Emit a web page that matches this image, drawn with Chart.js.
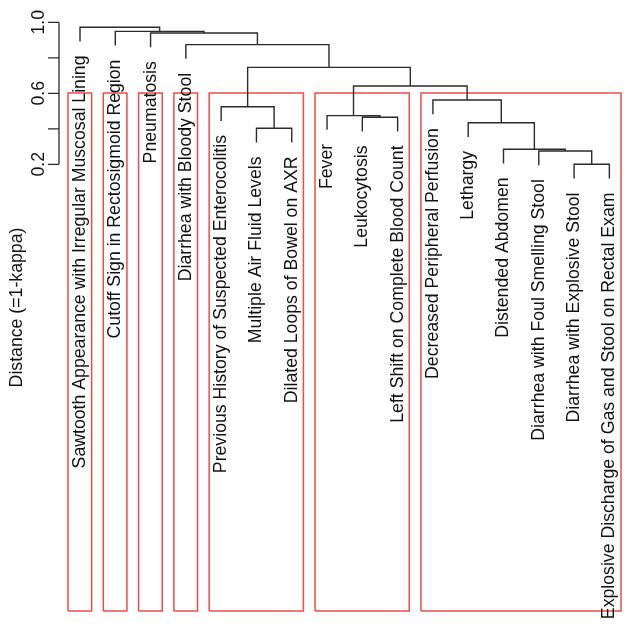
<!DOCTYPE html>
<html>
<head>
<meta charset="utf-8">
<script src="https://cdn.jsdelivr.net/npm/chart.js@4"></script>
<style>
html, body { margin: 0; padding: 0; background: #fff; }
#wrap { width: 628px; height: 630px; }
</style>
</head>
<body>
<div id="wrap"><canvas id="dendro"></canvas></div>
<script>
// leaves in display order (1..16)
const leafLabels = [
  "Sawtooth Appearance with Irregular Muscosal Lining",
  "Cutoff Sign in Rectosigmoid Region",
  "Pneumatosis",
  "Diarrhea with Bloody Stool",
  "Previous History of Suspected Enterocolitis",
  "Multiple Air Fluid Levels",
  "Dilated Loops of Bowel on AXR",
  "Fever",
  "Leukocytosis",
  "Left Shift on Complete Blood Count",
  "Decreased Peripheral Perfusion",
  "Lethargy",
  "Distended Abdomen",
  "Diarrhea with Foul Smelling Stool",
  "Diarrhea with Explosive Stool",
  "Explosive Discharge of Gas and Stool on Rectal Exam"
];

// hclust style merges: negative = leaf, positive = earlier merge
const mergePairs = [
  [-15, -16], [-14, 1], [-13, 2], [-6, -7], [-12, 3],
  [-9, -10], [-8, 6], [-5, 4], [-11, 5], [7, 9],
  [8, 10], [-4, 11], [-3, 12], [-2, 13], [-1, 14]
];
const mergeHeights = [
  0.200, 0.275, 0.285, 0.403, 0.434,
  0.465, 0.474, 0.524, 0.562, 0.641,
  0.746, 0.874, 0.940, 0.949, 0.972
];

const axisTicks = [0.2, 0.4, 0.6, 0.8, 1.0];
const axisTickLabels = ["0.2", "", "0.6", "", "1.0"];
const axisTitle = "Distance (=1-kappa)";
const clusterCount = 7;
const leafHang = 0.08;

const xMin = -1.267, xMax = 16.528;
const yMax = 1.1256, yMin = -2.3167;

const nodeX = [];
const leafBottom = [];
const treeLines = [];

function childX(c) { return c < 0 ? -c : nodeX[c - 1]; }
function childTop(c, h) {
  if (c < 0) { leafBottom[-c] = h - leafHang; return h - leafHang; }
  return mergeHeights[c - 1];
}

mergePairs.forEach((pair, i) => {
  const h = mergeHeights[i];
  const l = pair[0], r = pair[1];
  const xl = childX(l), xr = childX(r);
  nodeX.push((xl + xr) / 2);
  treeLines.push(
    { x: xl, y: childTop(l, h) }, { x: xl, y: h },
    { x: xr, y: h }, { x: xr, y: childTop(r, h) },
    { x: xr, y: null }
  );
});

// cut tree into k clusters (like rect.hclust)
const byHeight = mergeHeights.map((h, i) => i).sort((a, b) => mergeHeights[b] - mergeHeights[a]);
const cutSet = new Set(byHeight.slice(0, clusterCount - 1).map(i => i + 1));
const cutHeight = (mergeHeights[byHeight[clusterCount - 2]] + mergeHeights[byHeight[clusterCount - 1]]) / 2;

function leafRange(c) {
  if (c < 0) return [-c, -c];
  const a = leafRange(mergePairs[c - 1][0]), b = leafRange(mergePairs[c - 1][1]);
  return [Math.min(a[0], b[0]), Math.max(a[1], b[1])];
}

const boxLines = [];
cutSet.forEach(m => {
  mergePairs[m - 1].forEach(c => {
    if (cutSet.has(c)) return;
    const rg = leafRange(c);
    const x0 = rg[0] - 0.34, x1 = rg[1] + 0.33;
    boxLines.push(
      { x: x0, y: yMin }, { x: x0, y: cutHeight }, { x: x1, y: cutHeight },
      { x: x1, y: yMin }, { x: x0, y: yMin }, { x: x0, y: null }
    );
  });
});

const FONT = '17.7px "Liberation Sans", Arial, sans-serif';
const INK = "#2b2b2b";

const textPlugin = {
  id: "dendroText",
  afterDatasetsDraw(chart) {
    const ctx = chart.ctx;
    const xs = chart.scales.x, ys = chart.scales.y;
    ctx.save();
    ctx.font = FONT;
    ctx.fillStyle = "#111";

    // leaf labels, rotated, hanging from leaf ends
    leafLabels.forEach((lab, i) => {
      const px = xs.getPixelForValue(i + 1);
      const py = ys.getPixelForValue(leafBottom[i + 1]) + 14;
      ctx.save();
      ctx.translate(px + 5, py);
      ctx.rotate(-Math.PI / 2);
      ctx.textAlign = "right";
      ctx.textBaseline = "alphabetic";
      ctx.fillText(lab, 0, 0);
      ctx.restore();
    });

    // y axis
    const ax = 59;
    const yTop = ys.getPixelForValue(axisTicks[axisTicks.length - 1]);
    const yBot = ys.getPixelForValue(axisTicks[0]);
    ctx.strokeStyle = INK;
    ctx.lineWidth = 1.3;
    ctx.beginPath();
    ctx.moveTo(ax, yTop);
    ctx.lineTo(ax, yBot);
    axisTicks.forEach(t => {
      const py = ys.getPixelForValue(t);
      ctx.moveTo(ax, py);
      ctx.lineTo(ax - 11, py);
    });
    ctx.stroke();

    axisTicks.forEach((t, i) => {
      if (!axisTickLabels[i]) return;
      const py = ys.getPixelForValue(t);
      ctx.save();
      ctx.translate(44, py);
      ctx.rotate(-Math.PI / 2);
      ctx.textAlign = "center";
      ctx.textBaseline = "alphabetic";
      ctx.fillText(axisTickLabels[i], 0, 0);
      ctx.restore();
    });

    ctx.save();
    ctx.translate(22, 307.5);
    ctx.rotate(-Math.PI / 2);
    ctx.textAlign = "center";
    ctx.fillText(axisTitle, 0, 0);
    ctx.restore();

    ctx.restore();
  }
};

new Chart(document.getElementById("dendro"), {
  type: "scatter",
  data: {
    datasets: [
      {
        label: "tree",
        data: treeLines,
        showLine: true,
        spanGaps: false,
        borderColor: INK,
        borderWidth: 1.4,
        pointRadius: 0,
        tension: 0,
        clip: false
      },
      {
        label: "clusters",
        data: boxLines,
        showLine: true,
        spanGaps: false,
        borderColor: "rgba(235,45,45,0.85)",
        borderWidth: 1.5,
        pointRadius: 0,
        tension: 0,
        clip: false
      }
    ]
  },
  options: {
    responsive: true,
    maintainAspectRatio: false,
    animation: false,
    events: [],
    layout: { padding: { top: 0, left: 0, right: 0, bottom: 19 } },
    plugins: {
      legend: { display: false },
      tooltip: { enabled: false }
    },
    scales: {
      x: { type: "linear", min: xMin, max: xMax, display: false },
      y: { type: "linear", min: yMin, max: yMax, display: false }
    }
  },
  plugins: [textPlugin]
});
</script>
</body>
</html>
